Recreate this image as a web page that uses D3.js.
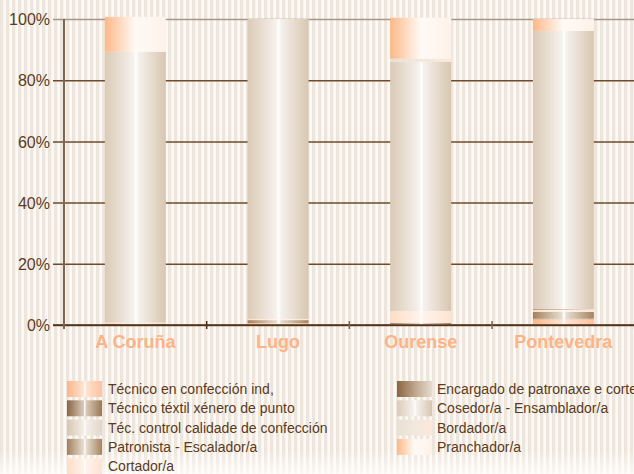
<!DOCTYPE html>
<html>
<head>
<meta charset="utf-8">
<script src="https://cdn.jsdelivr.net/npm/d3@7"></script>
<style>
  html, body { margin: 0; padding: 0; background: #fbf9f6; }
  svg { display: block; }
</style>
</head>
<body>
<svg id="chart" width="634" height="474"></svg>
<script>
// Provinces along the x axis
const categories = ["A Coruña", "Lugo", "Ourense", "Pontevedra"];

// Occupation names, listed from the bottom of each stack to the top
const seriesNames = [
  "Técnico en confección ind,",
  "Técnico téxtil xénero de punto",
  "Téc. control calidade de confección",
  "Patronista - Escalador/a",
  "Cortador/a",
  "Encargado de patronaxe e corte",
  "Cosedor/a - Ensamblador/a",
  "Bordador/a",
  "Pranchador/a"
];

// Share of each occupation (%) per province
const tecnicoConfeccion   = [0,    0.6, 0,    1.9];
const tecnicoTextil       = [0,    0,   0,    0.2];
const controlCalidade     = [0,    0,   0.3,  0];
const patronista          = [0.4,  1.0, 0.4,  2.2];
const cortador            = [0.4,  0.4, 3.9,  0.7];
const encargado           = [0,    0,   0,    0.2];
const cosedor             = [88.5, 98.0, 81.4, 90.9];
const bordador            = [0,    0,   1.0,  0];
const pranchador          = [11.4, 0,   13.4, 3.9];

const seriesValues = [tecnicoConfeccion, tecnicoTextil, controlCalidade, patronista,
  cortador, encargado, cosedor, bordador, pranchador];

const yTicks = [0, 20, 40, 60, 80, 100];
const yTickLabels = ["0%", "20%", "40%", "60%", "80%", "100%"];

// Fill gradients for each occupation (horizontal shading)
const cyl = (base, light, right) => [
  [0, base], [0.47, light], [0.51, "#ffffff"], [0.55, light], [1, right || base]
];
const fills = [
  cyl("#fcb687", "#fde3d1", "#fdc29d"),
  cyl("#896543", "#d9c9b8", "#9a7853"),
  cyl("#d6c6b2", "#f3eee8", "#e2d7ca"),
  cyl("#a2815d", "#e6dccf", "#a4845f"),
  cyl("#fddcc6", "#fff3ea", "#fee3d2"),
  [[0, "#8a6642"], [0.55, "#c2aa92"], [1, "#e6dbcf"]],
  cyl("#dbcab6", "#f5f1ec", "#d8c6b0"),
  [[0, "#e9e0d5"], [0.5, "#f2e8de"], [1, "#fde7d9"]],
  [[0, "#fdb887"], [0.5, "#fffaf6"], [1, "#fdf2e9"]]
];

const svg = d3.select("#chart");
const W = 634, H = 474;
const defs = svg.append("defs");

// striped backdrop
const pat = defs.append("pattern").attr("id", "stripes")
  .attr("patternUnits", "userSpaceOnUse").attr("width", 6).attr("height", 10);
pat.append("rect").attr("width", 6).attr("height", 10).attr("fill", "#fcfaf7");
pat.append("rect").attr("width", 3.3).attr("height", 10).attr("fill", "#eee6dc");

const fade = defs.append("linearGradient").attr("id", "fade")
  .attr("x1", 0).attr("y1", 0).attr("x2", 0).attr("y2", 1);
fade.append("stop").attr("offset", 0).attr("stop-color", "#ffffff").attr("stop-opacity", 0);
fade.append("stop").attr("offset", 1).attr("stop-color", "#ffffff").attr("stop-opacity", 0.7);

fills.forEach((stops, i) => {
  const g = defs.append("linearGradient").attr("id", "g" + i)
    .attr("x1", 0).attr("y1", 0).attr("x2", 1).attr("y2", 0);
  stops.forEach(([o, c]) => g.append("stop").attr("offset", o).attr("stop-color", c));
});

svg.append("rect").attr("width", W).attr("height", H).attr("fill", "url(#stripes)");
svg.append("rect").attr("y", 450).attr("width", W).attr("height", 24).attr("fill", "url(#fade)");

// scales
const x = d3.scaleBand().domain(categories).range([64, 634.7])
  .paddingInner(0.5725).paddingOuter(0.28625);
const y = d3.scaleLinear().domain([0, 100]).range([325, 19]);

// gridlines and y labels
const yAxis = d3.axisLeft(y).tickValues(yTicks)
  .tickSize(-(W - 53)).tickPadding(14)
  .tickFormat((d, i) => yTickLabels[i]);
const gy = svg.append("g").attr("transform", "translate(53,0)").call(yAxis);
gy.select(".domain").remove();
gy.selectAll(".tick line")
  .attr("stroke", d => d === 100 ? "#a8968a" : "#6e4b2d")
  .attr("stroke-width", d => d === 0 ? 1.6 : 1.5);
gy.selectAll(".tick text")
  .attr("x", -3).attr("dy", "0.36em")
  .attr("fill", "#5a3c25")
  .style("font-family", "'Liberation Sans', Arial, sans-serif")
  .style("font-size", "16px");

// stacked bars
const rows = categories.map((c, ci) => {
  const o = { cat: c };
  seriesNames.forEach((s, si) => { o[s] = seriesValues[si][ci]; });
  return o;
});
const stacked = d3.stack().keys(seriesNames)(rows);

const layers = svg.append("g").selectAll("g").data(stacked).join("g")
  .attr("fill", (d, i) => `url(#g${i})`);
layers.selectAll("rect").data(d => d.filter(p => p[1] - p[0] > 0)).join("rect")
  .attr("x", p => x(p.data.cat))
  .attr("width", x.bandwidth())
  .attr("y", p => y(p[1]))
  .attr("height", p => y(p[0]) - y(p[1]));

// x axis line with separators between provinces
const gx = svg.append("g").attr("transform", "translate(0,325)");
gx.append("line").attr("x1", 53).attr("x2", W).attr("stroke", "#4b2d16").attr("stroke-width", 1.6);
const seps = categories.map(c => x(c) + x.bandwidth() / 2 + x.step() / 2);
gx.selectAll(".sep").data(seps).join("line").attr("class", "sep")
  .attr("x1", d => d).attr("x2", d => d).attr("y1", -4).attr("y2", 4)
  .attr("stroke", (d, i) => i === 0 ? "#4b2d16" : "#7d6553").attr("stroke-width", 1.5);

// y axis line
svg.append("line").attr("x1", 64).attr("x2", 64).attr("y1", 19).attr("y2", 329)
  .attr("stroke", "#7e6551").attr("stroke-width", 2);

// province labels
svg.append("g").selectAll("text").data(categories).join("text")
  .attr("x", c => x(c) + x.bandwidth() / 2)
  .attr("y", 348)
  .attr("text-anchor", "middle")
  .attr("fill", "#fdb386")
  .style("font-family", "'Liberation Sans', Arial, sans-serif")
  .style("font-weight", "bold")
  .style("font-size", "18px")
  .text(c => c);

// legend in two columns
const legendPos = seriesNames.map((s, i) => i < 5
  ? { sx: 67, tx: 108, row: i }
  : { sx: 397, tx: 437, row: i - 5 });
const lg = svg.append("g").selectAll("g").data(seriesNames).join("g")
  .attr("transform", (s, i) => `translate(0,${381 + legendPos[i].row * 19.3})`);
lg.append("rect")
  .attr("x", (s, i) => legendPos[i].sx)
  .attr("width", 35).attr("height", 16)
  .attr("fill", (s, i) => `url(#g${i})`);
lg.append("text")
  .attr("x", (s, i) => legendPos[i].tx)
  .attr("y", 13)
  .attr("fill", "#5a3a20")
  .style("font-family", "'Liberation Sans', Arial, sans-serif")
  .style("font-size", "14px")
  .text(s => s);
</script>
</body>
</html>
